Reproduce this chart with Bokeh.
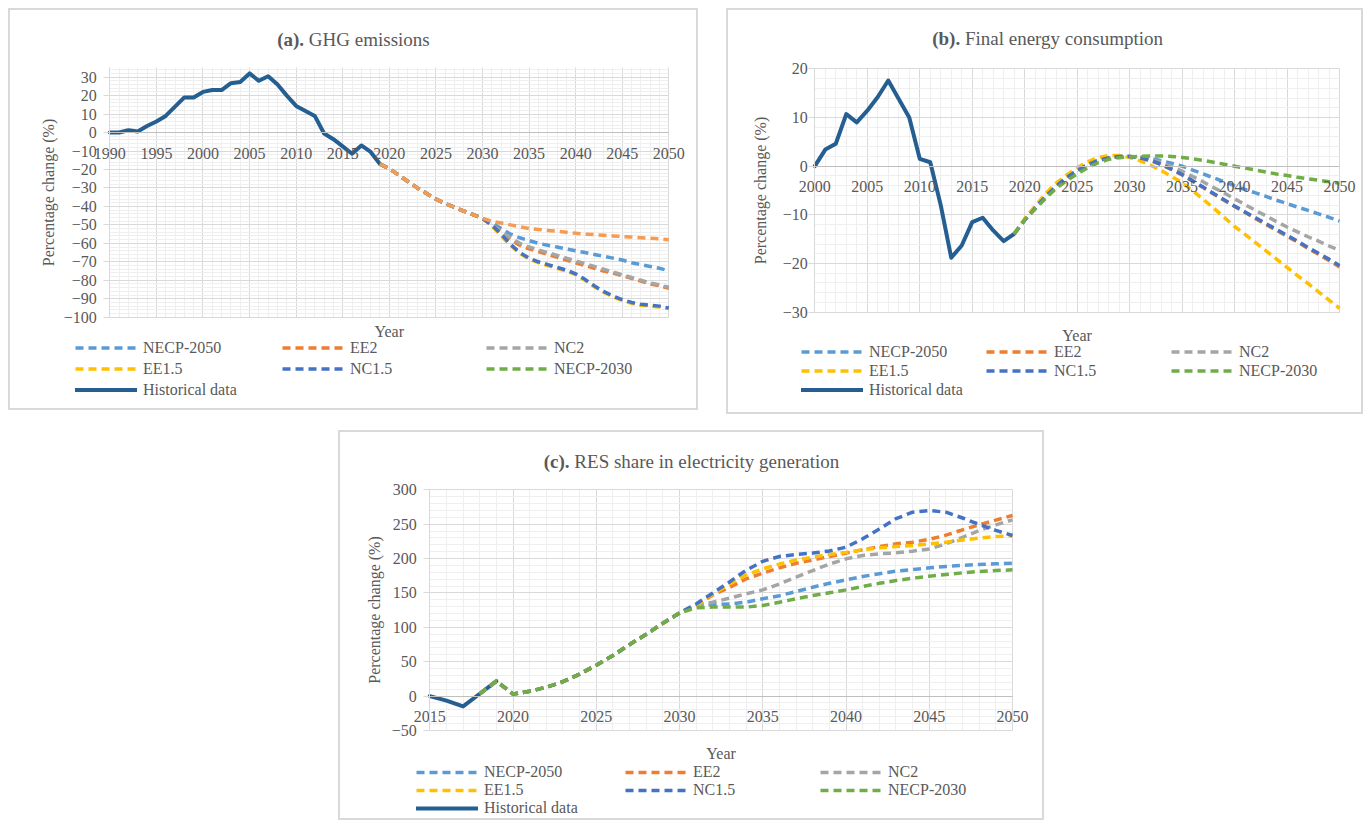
from bokeh.plotting import figure
from bokeh.models import (Range1d, LinearAxis, SingleIntervalTicker, Grid,
                          Legend, LegendItem, Label, Spacer, ColumnDataSource)
from bokeh.layouts import row, column
from bokeh.embed import file_html
from bokeh.resources import INLINE

# ---------------- DATA ----------------
SCENARIOS = ["NECP-2050", "EE2", "NC2", "EE1.5", "NC1.5", "NECP-2030"]
HIST_LABEL = "Historical data"

# (a) GHG emissions, % change vs 1990
ghg_hist_years = list(range(1990, 2020))
ghg_hist = [0.0, 0.0, 1.2, 0.6, 3.5, 6.0, 9.0, 14.0, 19.0, 19.0, 22.0, 23.0, 23.0, 26.7, 27.4,
            32.0, 28.0, 30.5, 26.0, 20.0, 14.4, 11.7, 9.0, -0.5, -3.6, -7.5, -11.5, -7.0, -10.5, -17.1]
ghg_proj_years = list(range(2019, 2051))
ghg_necp2050 = [-17.1, -19.5, -23.0, -26.5, -30.0, -33.0, -36.0, -38.5, -40.5, -42.5, -44.5, -46.5,
                -49.0, -52.0, -55.0, -57.0, -58.5, -60.0, -61.0, -62.0, -63.0, -64.0, -65.0, -66.0,
                -67.0, -68.0, -69.0, -70.5, -71.5, -72.5, -73.5, -74.8]
ghg_ee2 = [-17.1, -19.5, -23.0, -26.5, -30.0, -33.0, -36.0, -38.5, -40.5, -42.5, -44.5, -46.5,
           -50.0, -54.0, -58.0, -61.0, -63.0, -64.5, -66.0, -67.5, -69.0, -70.5, -72.0, -73.5,
           -75.0, -76.0, -77.5, -79.0, -80.5, -82.0, -83.0, -84.3]
ghg_nc2 = [-17.1, -19.5, -23.0, -26.5, -30.0, -33.0, -36.0, -38.5, -40.5, -42.5, -44.5, -46.5,
           -50.0, -53.5, -57.0, -60.0, -62.0, -63.5, -65.0, -66.5, -68.0, -69.5, -71.0, -72.5,
           -74.0, -75.5, -77.0, -78.5, -80.0, -81.5, -82.5, -83.8]
ghg_ee15 = [-17.1, -19.5, -23.0, -26.5, -30.0, -33.0, -36.0, -38.5, -40.5, -42.5, -44.5, -46.5,
            -50.5, -56.0, -61.0, -65.5, -68.5, -70.5, -72.0, -73.5, -75.0, -77.0, -80.0, -83.5,
            -86.5, -89.0, -91.0, -92.5, -93.5, -94.0, -94.5, -95.3]
ghg_nc15 = [-17.1, -19.5, -23.0, -26.5, -30.0, -33.0, -36.0, -38.5, -40.5, -42.5, -44.5, -46.5,
            -50.0, -55.0, -60.5, -65.0, -68.0, -70.0, -71.5, -73.0, -74.5, -76.5, -79.5, -83.0,
            -86.0, -88.5, -90.5, -92.0, -93.0, -93.5, -94.0, -95.0]
ghg_necp2030 = [-17.1, -19.5, -23.0, -26.5, -30.0, -33.0, -36.0, -38.5, -40.5, -42.5, -44.5, -46.5,
                -48.0, -49.0, -50.0, -51.0, -52.0, -52.5, -53.0, -53.5, -54.0, -54.5, -55.0, -55.3,
                -55.6, -56.0, -56.3, -56.6, -57.0, -57.3, -57.6, -58.0]

# (b) Final energy consumption, % change vs 2000
fec_hist_years = list(range(2000, 2020))
fec_hist = [0.0, 3.4, 4.6, 10.7, 9.0, 11.4, 14.2, 17.6, 13.8, 10.0, 1.5, 0.8, -8.0, -18.8, -16.3,
            -11.5, -10.6, -13.2, -15.4, -13.9]
fec_proj_years = list(range(2019, 2051))
fec_necp2050 = [-13.9, -11.1, -8.6, -6.2, -4.1, -2.3, -0.9, 0.3, 1.2, 1.7, 2.0, 2.0,
                1.9, 1.6, 1.1, 0.6, 0.0, -0.8, -1.6, -2.4, -3.2, -4.0, -4.8, -5.5, -6.2, -7.0,
                -7.7, -8.4, -9.1, -9.8, -10.5, -11.3]
fec_ee2 = [-13.9, -11.1, -8.6, -6.2, -4.1, -2.3, -0.9, 0.3, 1.2, 1.7, 2.0, 2.0,
           1.7, 1.1, 0.3, -0.7, -1.8, -3.1, -4.4, -5.7, -7.0, -8.3, -9.5, -10.8, -12.0, -13.2,
           -14.4, -15.6, -16.9, -18.1, -19.4, -20.7]
fec_nc2 = [-13.9, -11.1, -8.6, -6.2, -4.1, -2.3, -0.9, 0.3, 1.2, 1.7, 2.0, 2.0,
           1.8, 1.4, 0.8, -0.1, -1.0, -2.1, -3.2, -4.4, -5.5, -6.7, -7.9, -9.1, -10.2, -11.4,
           -12.5, -13.5, -14.5, -15.4, -16.4, -17.3]
fec_ee15 = [-13.9, -10.8, -8.2, -5.6, -3.5, -1.8, -0.3, 0.9, 1.8, 2.2, 2.2, 1.8,
            1.1, 0.2, -0.9, -2.1, -3.4, -5.0, -6.8, -8.6, -10.5, -12.4, -14.0, -15.7, -17.4,
            -19.1, -20.8, -22.5, -24.1, -25.8, -27.5, -29.2]
fec_nc15 = [-13.9, -11.1, -8.6, -6.2, -4.1, -2.3, -0.9, 0.3, 1.2, 1.7, 2.0, 2.0,
            1.7, 1.2, 0.4, -0.6, -1.7, -3.0, -4.3, -5.6, -6.9, -8.2, -9.4, -10.6, -11.8, -13.0,
            -14.2, -15.4, -16.7, -17.9, -19.1, -20.4]
fec_necp2030 = [-13.9, -11.0, -8.8, -6.6, -4.6, -3.0, -1.6, -0.3, 0.7, 1.4, 1.75, 1.9,
                2.0, 2.1, 2.1, 2.0, 1.8, 1.5, 1.2, 0.8, 0.4, 0.0, -0.4, -0.8, -1.2, -1.6,
                -1.9, -2.3, -2.6, -2.9, -3.2, -3.5]

# (c) RES share in electricity generation, % change vs 2015
res_hist_years = list(range(2015, 2020))
res_hist = [0.0, -6.5, -15.0, 3.4, 21.8]
res_proj_years = list(range(2018, 2051))
res_necp2050 = [3.4, 21.8, 3.0, 7.0, 13.0, 21.0, 32.0, 45.0, 59.0, 75.0, 90.0, 106.0, 121.0,
                133.0, 133.0, 134.0, 136.6, 141.5, 146.0, 152.0, 158.4, 164.0, 169.0, 174.0,
                177.8, 181.7, 184.0, 186.5, 188.5, 190.0, 191.4, 192.3, 193.3]
res_ee2 = [3.4, 21.8, 3.0, 7.0, 13.0, 21.0, 32.0, 45.0, 59.0, 75.0, 90.0, 106.0, 121.0,
           132.0, 147.0, 158.0, 170.5, 178.8, 186.5, 193.0, 198.0, 203.0, 208.0, 212.7, 217.5,
           221.4, 223.8, 228.0, 234.0, 241.8, 249.0, 256.0, 262.6]
res_nc2 = [3.4, 21.8, 3.0, 7.0, 13.0, 21.0, 32.0, 45.0, 59.0, 75.0, 90.0, 106.0, 121.0,
           131.8, 136.6, 142.4, 148.7, 154.5, 163.0, 173.0, 182.6, 192.0, 199.6, 204.5, 207.0,
           208.3, 210.8, 214.0, 221.4, 231.0, 240.8, 249.0, 256.3]
res_ee15 = [3.4, 21.8, 3.0, 7.0, 13.0, 21.0, 32.0, 45.0, 59.0, 75.0, 90.0, 106.0, 121.0,
            132.0, 148.0, 163.0, 176.0, 185.0, 192.0, 198.0, 202.0, 206.0, 209.0, 213.0, 215.6,
            217.5, 219.0, 221.4, 223.8, 227.0, 229.7, 232.0, 233.0]
res_nc15 = [3.4, 21.8, 3.0, 7.0, 13.0, 21.0, 32.0, 45.0, 59.0, 75.0, 90.0, 106.0, 121.0,
            134.0, 150.0, 166.0, 183.0, 196.0, 203.0, 206.0, 208.0, 211.0, 216.6, 228.7, 243.0,
            258.0, 267.4, 270.0, 267.4, 259.0, 249.5, 241.0, 233.5]
res_necp2030 = [3.4, 21.8, 3.0, 7.0, 13.0, 21.0, 32.0, 45.0, 59.0, 75.0, 90.0, 106.0, 121.0,
                128.4, 129.4, 129.4, 129.4, 131.8, 136.6, 141.5, 146.3, 150.2, 154.5, 159.4,
                164.0, 168.0, 171.5, 174.4, 176.8, 179.3, 181.2, 182.6, 183.6]

# ---------------- STYLE ----------------
FONT = "Liberation Serif"
TXT = "#595959"
GRID_MAJOR = "#d9d9d9"
GRID_MINOR = "#efefef"
AXIS_COL = "#bfbfbf"
COLORS = {"NECP-2050": "#5B9BD5", "EE2": "#ED7D31", "NC2": "#A5A5A5",
          "EE1.5": "#FFC000", "NC1.5": "#4472C4", "NECP-2030": "#70AD47"}
HIST_COLOR = "#255E91"
DASH = "8 5"
LEGEND_COLS = [["NECP-2050", "EE1.5", HIST_LABEL], ["EE2", "NC1.5"], ["NC2", "NECP-2030"]]
HAS_CROSS = "cross_bounds" in Grid.properties()


def make_panel(W, H, box, xr, yr, xint, yint,
               hist_x, hist_y, proj_x, proj, title_bold, title_rest, title_junction, title_cy,
               ytick_standoff, ylabel_standoff, year_pos, legend_x, legend_vy, row_h,
               line_override=None):
    PL, PR, PT, PB = box          # plot-area edges in panel pixels
    x0, x1 = xr
    y0, y1 = yr
    sx = (PR - PL) / (x1 - x0)
    sy = (PB - PT) / (y1 - y0)
    xmin, xmax = x0 - PL / sx, x1 + (W - PR) / sx
    ymin, ymax = y0 - (H - PB) / sy, y1 + PT / sy

    def to_data(px, py):
        return xmin + px / sx, ymax - py / sy

    p = figure(width=W, height=H, x_range=Range1d(xmin, xmax), y_range=Range1d(ymin, ymax),
               x_axis_location=None, y_axis_location=None, toolbar_location=None,
               output_backend="svg", min_border=0, min_border_left=0, min_border_right=0,
               min_border_top=0, min_border_bottom=0,
               background_fill_color="white", border_fill_color="white",
               outline_line_color="#d9d9d9", outline_line_width=3)
    p.center = [r for r in p.center if not isinstance(r, Grid)]

    xt = SingleIntervalTicker(interval=xint, num_minor_ticks=5)
    yt = SingleIntervalTicker(interval=yint, num_minor_ticks=5)

    if HAS_CROSS:
        for dim, tk, b, cb in ((0, xt, (x0, x1), (y0, y1)), (1, yt, (y0, y1), (x0, x1))):
            g = Grid(dimension=dim, ticker=tk, bounds=b, cross_bounds=cb,
                     grid_line_color=GRID_MAJOR, grid_line_width=1,
                     minor_grid_line_color=GRID_MINOR, minor_grid_line_width=1)
            p.add_layout(g, "center")
    else:
        mxs = [x0 + i * xint / 5 for i in range(int(round((x1 - x0) * 5 / xint)) + 1)]
        mys = [y0 + i * yint / 5 for i in range(int(round((y1 - y0) * 5 / yint)) + 1)]
        mnx = [v for i, v in enumerate(mxs) if i % 5]
        mny = [v for i, v in enumerate(mys) if i % 5]
        mjx = [v for i, v in enumerate(mxs) if i % 5 == 0]
        mjy = [v for i, v in enumerate(mys) if i % 5 == 0]
        p.segment(x0=mnx, x1=mnx, y0=[y0] * len(mnx), y1=[y1] * len(mnx), line_color=GRID_MINOR)
        p.segment(x0=[x0] * len(mny), x1=[x1] * len(mny), y0=mny, y1=mny, line_color=GRID_MINOR)
        p.segment(x0=mjx, x1=mjx, y0=[y0] * len(mjx), y1=[y1] * len(mjx), line_color=GRID_MAJOR)
        p.segment(x0=[x0] * len(mjy), x1=[x1] * len(mjy), y0=mjy, y1=mjy, line_color=GRID_MAJOR)

    yax = LinearAxis(ticker=yt, fixed_location=x0, bounds=(y0, y1),
                     axis_label="Percentage change (%)",
                     axis_line_color=GRID_MAJOR, major_tick_line_color=GRID_MAJOR,
                     major_tick_in=0, major_tick_out=6, minor_tick_line_color=None,
                     major_label_standoff=ytick_standoff, axis_label_standoff=ylabel_standoff,
                     major_label_text_font=FONT, major_label_text_font_size="16px",
                     major_label_text_color=TXT, axis_label_text_font=FONT,
                     axis_label_text_font_size="16px", axis_label_text_font_style="normal",
                     axis_label_text_color=TXT)
    p.add_layout(yax, "left")

    xax = LinearAxis(ticker=xt, fixed_location=0, bounds=(x0, x1), axis_line_color=AXIS_COL,
                     major_tick_line_color=None, minor_tick_line_color=None,
                     major_tick_in=0, major_tick_out=0, major_label_standoff=11,
                     major_label_text_font=FONT, major_label_text_font_size="16px",
                     major_label_text_color=TXT)
    p.add_layout(xax, "below")

    renderers = {}
    hsrc = ColumnDataSource(data=dict(x=hist_x, y=hist_y))
    renderers[HIST_LABEL] = p.line("x", "y", source=hsrc, line_color=HIST_COLOR, line_width=4,
                                   line_join="round", line_cap="round")
    for name in SCENARIOS:
        src = ColumnDataSource(data=dict(x=proj_x, y=proj[name]))
        col = COLORS[name]
        if line_override and name in line_override:
            col = line_override[name]
        r = p.line("x", "y", source=src, line_color=col, line_width=3.5, line_dash=DASH,
                   line_join="round")
        if line_override and name in line_override:
            # the legend entry keeps the series' legend colour (renderer draws nothing visible)
            ksrc = ColumnDataSource(data=dict(x=[proj_x[0]], y=[float("nan")]))
            r = p.line("x", "y", source=ksrc, line_color=COLORS[name], line_width=3.5,
                       line_dash=DASH)
        renderers[name] = r

    for cx, vy, names in zip(legend_x, legend_vy, LEGEND_COLS):
        leg = Legend(items=[LegendItem(label=n, renderers=[renderers[n]]) for n in names],
                     location=(cx, vy),
                     orientation="vertical", glyph_width=62, glyph_height=row_h,
                     label_height=row_h, label_width=20, spacing=0, padding=0, margin=0,
                     label_standoff=6, border_line_color=None, background_fill_alpha=0,
                     label_text_font=FONT, label_text_font_size="16px",
                     label_text_color=TXT)
        p.add_layout(leg, "center")

    bx, by = to_data(title_junction, title_cy)
    p.add_layout(Label(x=bx, y=by, text=title_bold, text_font=FONT, text_font_size="19px",
                       text_font_style="bold", text_color=TXT, text_align="right",
                       text_baseline="middle"))
    rx, _ = to_data(title_junction + 4.75, title_cy)
    p.add_layout(Label(x=rx, y=by, text=title_rest, text_font=FONT, text_font_size="19px",
                       text_color=TXT, text_align="left", text_baseline="middle"))

    yx, yy = to_data(*year_pos)
    p.add_layout(Label(x=yx, y=yy, text="Year", text_font=FONT, text_font_size="16px",
                       text_color=TXT, text_align="center", text_baseline="middle"))
    return p


pa = make_panel(690, 402, (101.3, 660.3, 59.4, 308.7), (1990, 2050), (-100, 35), 5, 10,
                ghg_hist_years, ghg_hist, ghg_proj_years,
                {"NECP-2050": ghg_necp2050, "EE2": ghg_ee2, "NC2": ghg_nc2,
                 "EE1.5": ghg_ee15, "NC1.5": ghg_nc15, "NECP-2030": ghg_necp2030},
                "(a).", "GHG emissions", 295.6, 31, 7, 3, (380.8, 323),
                [67, 274, 478], [10, 31, 31], 21, line_override={"NECP-2030": "#F59B52"})

pb = make_panel(637, 406, (88.3, 613.0, 60.3, 303.7), (2000, 2050), (-30, 20), 5, 10,
                fec_hist_years, fec_hist, fec_proj_years,
                {"NECP-2050": fec_necp2050, "EE2": fec_ee2, "NC2": fec_nc2,
                 "EE1.5": fec_ee15, "NC1.5": fec_nc15, "NECP-2030": fec_necp2030},
                "(b).", "Final energy consumption", 233.7, 30.3, 1, 10, (350.6, 327),
                [75, 260, 445], [15, 34, 34], 19)

pc = make_panel(706, 390, (91.3, 674.0, 59.3, 300.0), (2015, 2050), (-50, 300), 5, 50,
                res_hist_years, res_hist, res_proj_years,
                {"NECP-2050": res_necp2050, "EE2": res_ee2, "NC2": res_nc2,
                 "EE1.5": res_ee15, "NC1.5": res_nc15, "NECP-2030": res_necp2030},
                "(c).", "RES share in electricity generation", 231.1, 30.7, 7, 5, (382.6, 323),
                [78, 287, 482], [3, 21, 21], 18)

inner = column(row(pa, Spacer(width=28, height=10), pb),
               Spacer(width=10, height=16),
               row(Spacer(width=330, height=10), pc))
layout = column(Spacer(width=10, height=8), row(Spacer(width=8, height=10), inner))

open("out.html", "w").write(file_html(layout, INLINE))
